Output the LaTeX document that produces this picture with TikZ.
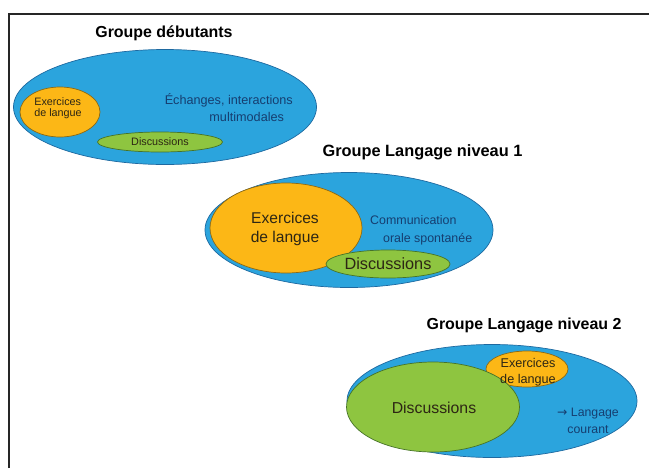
\documentclass[tikz,border=0pt]{standalone}
\usepackage{fontspec}
\setmainfont{Liberation Sans}
\newfontfamily\symb{DejaVu Sans}
\usetikzlibrary{shapes.geometric}
\definecolor{bleu}{RGB}{43,164,221}
\definecolor{bleubord}{RGB}{30,105,160}
\definecolor{bleutexte}{RGB}{22,62,112}
\definecolor{orange}{RGB}{252,183,22}
\definecolor{orangebord}{RGB}{140,105,20}
\definecolor{vert}{RGB}{142,197,64}
\definecolor{vertbord}{RGB}{70,115,40}
\definecolor{texte}{RGB}{45,38,20}
\begin{document}
\begin{tikzpicture}[x=0.03cm,y=-0.03cm,
  taille/.style 2 args={minimum width=#1*0.03cm,minimum height=#2*0.03cm},
  groupe/.style={ellipse,draw=bleubord,fill=bleu,line width=0.6pt,inner sep=0pt},
  exo/.style={ellipse,draw=orangebord,fill=orange,line width=0.6pt,inner sep=0pt},
  disc/.style={ellipse,draw=vertbord,fill=vert,line width=0.6pt,inner sep=0pt},
  titre/.style={font=\fontsize{13.6}{16}\selectfont\bfseries,text=black},
  lab/.style={text=texte,inner sep=0pt,align=center},
  bleulab/.style={text=bleutexte,inner sep=0pt}]
\useasboundingbox (0,0) rectangle (649,468);
\draw[line width=2.4pt,black!85] (9,468) -- (9,14) -- (649,14);

% Groupe debutants
\node[titre] (t1) at (164,33) {Groupe débutants};
\node[groupe,taille={303}{115}] (g1) at (165,107) {};
\node[exo,taille={80}{50}] (e1) at (60,112) {};
\node[disc,taille={125}{20}] (d1) at (160,142) {};
\node[lab,font=\fontsize{9.2}{9.6}\selectfont,align=left] (e1t) at (58,108) {Exercices\\de langue};
\node[lab,font=\fontsize{9.2}{11}\selectfont] (d1t) at (160,142) {Discussions};
\node[bleulab,font=\fontsize{10.8}{14.5}\selectfont,align=right,anchor=east] (g1t) at (293,108)
  {Échanges, interactions\\multimodales\hspace*{7.5pt}};

% Groupe Langage niveau 1
\node[titre,font=\fontsize{13.95}{16}\selectfont\bfseries] (t2) at (422.5,152) {Groupe Langage niveau 1};
\node[groupe,taille={288}{115}] (g2) at (349,230) {};
\node[exo,taille={152}{90}] (e2) at (286,228) {};
\node[disc,taille={124}{28}] (d2) at (388,264) {};
\node[lab,font=\fontsize{13.3}{16.2}\selectfont] (e2t) at (285,229) {Exercices\\de langue};
\node[lab,font=\fontsize{13.9}{16}\selectfont] (d2t) at (388,264) {Discussions};
\node[bleulab,font=\fontsize{10.6}{15.4}\selectfont,align=left,anchor=west] (g2t) at (370,230)
  {Communication\\\hspace*{11pt}orale spontanée};

% Groupe Langage niveau 2
\node[titre] (t3) at (524,325) {Groupe Langage niveau 2};
\node[groupe,taille={290}{113}] (g3) at (492,401) {};
\node[exo,taille={82}{36}] (e3) at (527,369) {};
\node[disc,taille={173}{90}] (d3) at (433,407) {};
\node[lab,font=\fontsize{10.8}{13.7}\selectfont] (e3t) at (528,372) {Exercices\\de langue};
\node[lab,font=\fontsize{13.5}{16}\selectfont] (d3t) at (434,408) {Discussions};
\node[bleulab,font=\fontsize{10.5}{14.5}\selectfont,align=center] (g3t) at (588,421) {{\symb →} Langage\\courant};
\end{tikzpicture}
\end{document}
